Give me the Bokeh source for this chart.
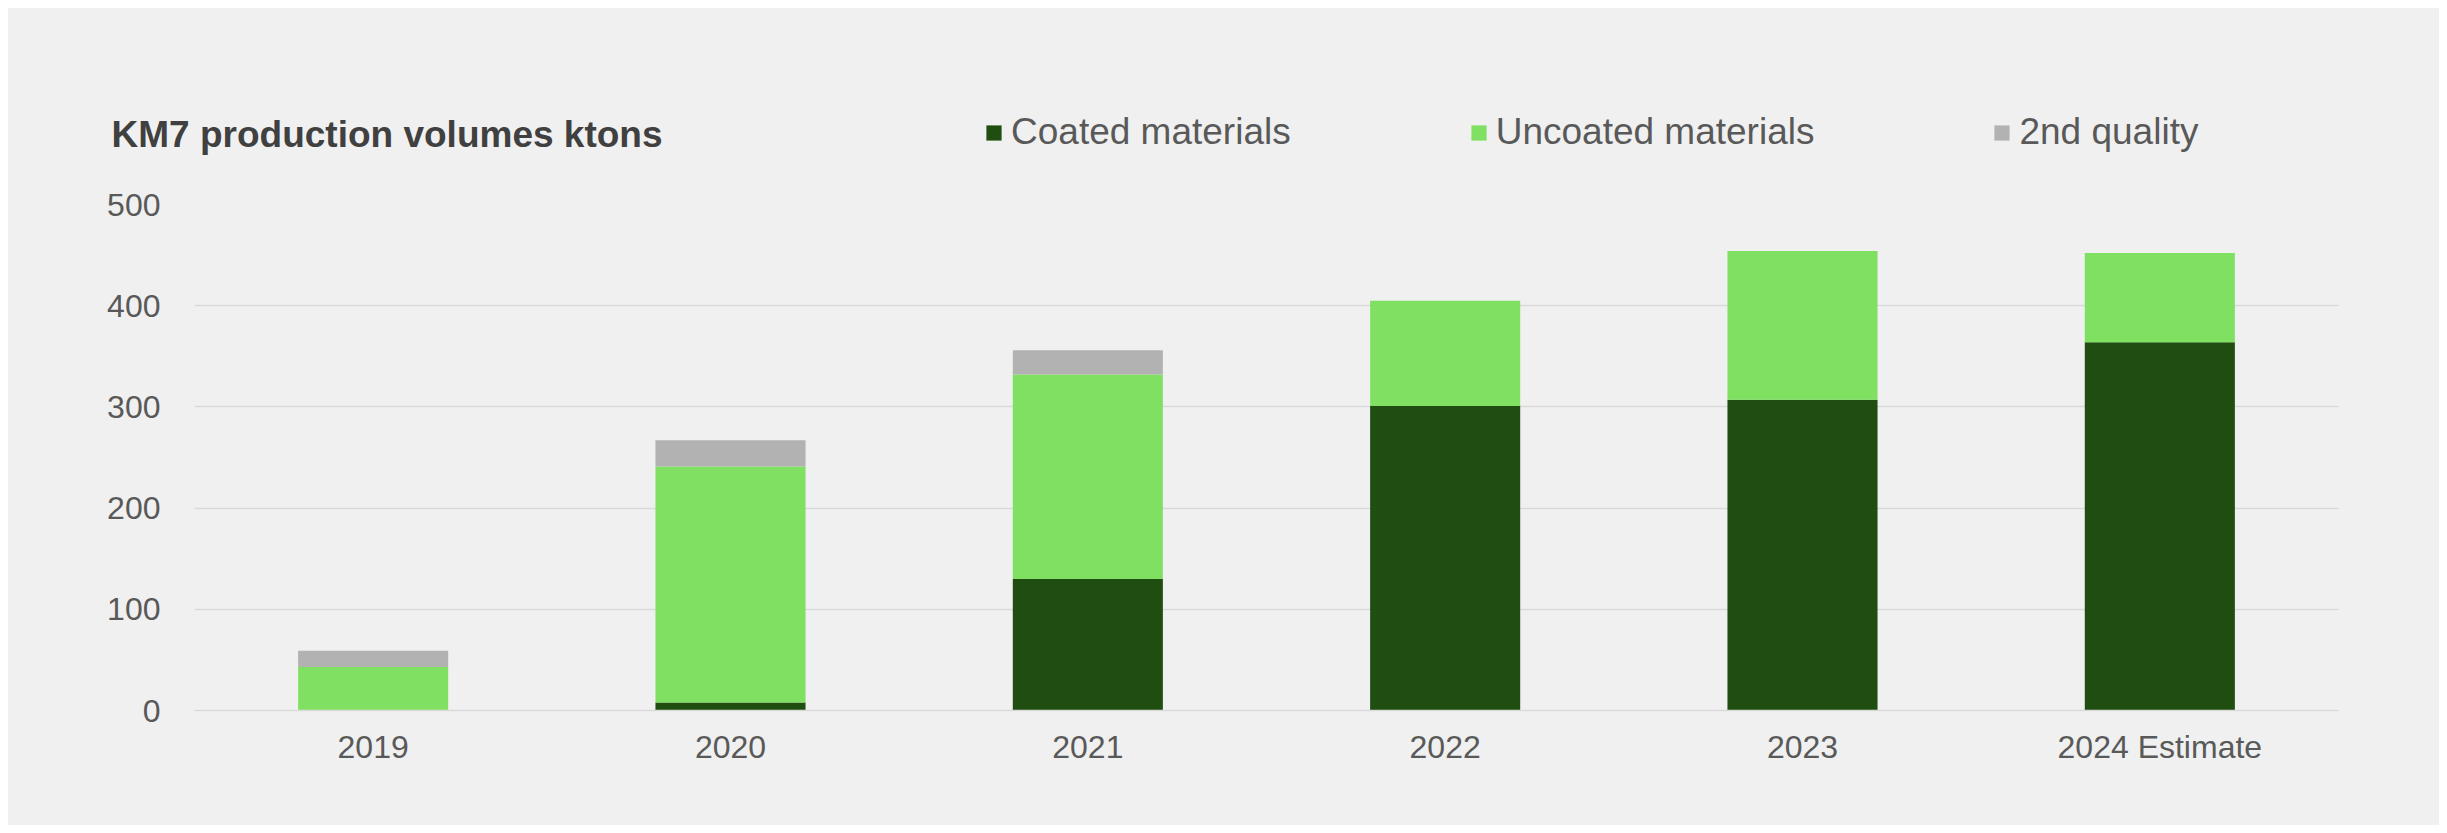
from bokeh.plotting import figure
from bokeh.layouts import column
from bokeh.models import (Range1d, FactorRange, Legend, LegendItem, ColumnDataSource,
                          LinearAxis, FixedTicker)
from bokeh.embed import file_html
from bokeh.resources import INLINE

years = ["2019", "2020", "2021", "2022", "2023", "2024 Estimate"]
coated = [0, 8, 130, 301, 307, 364]
uncoated = [43, 233, 202, 104, 147, 88]
second_quality = [16, 26, 24, 0, 0, 0]
series_names = ["Coated materials", "Uncoated materials", "2nd quality"]
colors = ["#1f4e10", "#80e062", "#b2b2b2"]
y_ticks = [0, 100, 200, 300, 400, 500]
title_text = "KM7 production volumes ktons"

BG = "#f0f0f0"
FONT = "Liberation Sans"
W = 2431
HEAD_H = 166
MAIN_H = 817 - HEAD_H
BORDER_L, BORDER_R = 186, 101
TITLE_Y = 40  # header y (px from its bottom) of the title row

# ---- header: title + legend (frame aligned with the chart frame) ----
head = figure(width=W, height=HEAD_H, x_range=Range1d(0, 1), y_range=Range1d(0, HEAD_H),
              x_axis_type=None, y_axis_type=None, output_backend="svg",
              toolbar_location=None, min_border_left=BORDER_L, min_border_right=BORDER_R,
              min_border_top=0, min_border_bottom=0)
head.title.visible = False
head.background_fill_color = BG
head.border_fill_color = BG
head.outline_line_color = None
head.xgrid.grid_line_color = None
head.ygrid.grid_line_color = None

# title drawn as the single label of a left axis, pushed into place by a negative standoff
title_axis = LinearAxis(ticker=FixedTicker(ticks=[TITLE_Y]),
                        major_label_overrides={TITLE_Y: title_text},
                        axis_line_color=None, major_tick_line_color=None,
                        minor_tick_line_color=None, major_label_standoff=-474,
                        major_label_text_font=FONT, major_label_text_font_size="37px",
                        major_label_text_font_style="bold", major_label_text_color="#404040")
head.add_layout(title_axis, "left")

proxies = [head.vbar(x=[0], top=[0], width=0, color=c, line_width=0) for c in colors]
legend = Legend(items=[LegendItem(label=n, renderers=[r]) for n, r in zip(series_names, proxies)],
                orientation="horizontal", location=(790, 21), padding=0, margin=0,
                spacing=178, glyph_width=19, glyph_height=19, label_standoff=8,
                label_text_font=FONT, label_text_font_size="37px", label_text_color="#595959",
                background_fill_alpha=0, border_line_color=None)
head.add_layout(legend, "center")

# ---- main chart ----
p = figure(width=W, height=MAIN_H, x_range=FactorRange(*years, range_padding=0),
           y_range=Range1d(0, 500), output_backend="svg", toolbar_location=None,
           min_border_left=BORDER_L, min_border_right=BORDER_R, min_border_top=30,
           min_border_bottom=115)
p.title.visible = False
p.background_fill_color = BG
p.border_fill_color = BG
p.outline_line_color = None

src = ColumnDataSource(dict(year=years, c=coated, u=uncoated, s=second_quality))
p.vbar_stack(["c", "u", "s"], x="year", width=0.42, color=colors, source=src, line_width=0)

p.xgrid.grid_line_color = None
p.ygrid.grid_line_color = "#d9d9d9"
p.ygrid.grid_line_width = 1.5
p.yaxis.ticker = y_ticks
for ax in (p.xaxis, p.yaxis):
    ax.axis_line_color = None
    ax.major_tick_line_color = None
    ax.minor_tick_line_color = None
    ax.major_label_text_font = FONT
    ax.major_label_text_font_size = "32px"
    ax.major_label_text_color = "#595959"
p.xaxis.axis_line_color = "#d9d9d9"
p.xaxis.axis_line_width = 1.5
p.xaxis.major_label_standoff = 12
p.yaxis.major_label_standoff = 28

layout = column(head, p, spacing=0)
layout.styles = {"margin-left": "8px", "margin-top": "8px", "background-color": BG}

open("out.html", "w").write(file_html(layout, INLINE))
